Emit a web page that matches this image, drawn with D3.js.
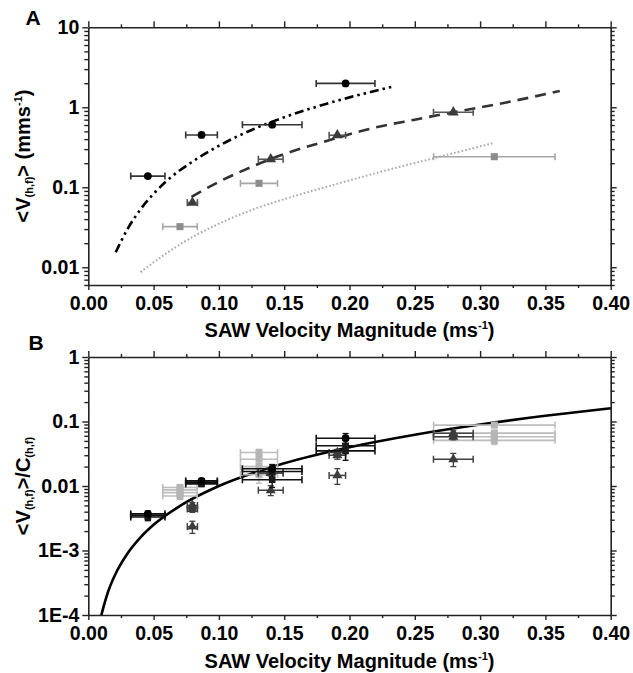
<!DOCTYPE html>
<html><head><meta charset="utf-8">
<script src="https://cdn.jsdelivr.net/npm/d3@7"></script>
<style>
html,body{margin:0;padding:0;background:#fff;}
text{font-family:"Liberation Sans",Arial,sans-serif;font-weight:bold;}
</style></head>
<body><svg id="c" width="633" height="673"></svg>
<script>
// ---------- axes ----------
const xTicks = [0.00,0.05,0.10,0.15,0.20,0.25,0.30,0.35,0.40];
const aYTicks = [0.01,0.1,1,10];
const aYLabels = ["0.01","0.1","1","10"];
const bYTicks = [1e-4,1e-3,0.01,0.1,1];
const bYLabels = ["1E-4","1E-3","0.01","0.1","1"];

// ---------- Panel A data ----------
const circX    = [0.0456,0.0867,0.1408,0.1970];
const circXerr = [0.0131,0.0121,0.0228,0.0225];
const circY    = [0.138,0.451,0.606,1.99];

const triX     = [0.0797,0.1397,0.1907,0.2795];
const triXerr  = [0.0039,0.0095,0.0063,0.0152];
const triY     = [0.0642,0.224,0.447,0.866];

const sqX      = [0.0702,0.1307,0.3109];
const sqXerr   = [0.0132,0.0142,0.0465];
const sqY      = [0.0322,0.112,0.241];

// curves
const dashDotX = [0.021,0.03,0.04,0.05,0.06,0.08,0.10,0.125,0.15,0.175,0.20,0.233];
const dashDotY = [0.0154,0.030,0.053,0.083,0.12,0.21,0.33,0.52,0.75,1.02,1.33,1.81];
const dashX    = [0.079,0.10,0.125,0.15,0.185,0.22,0.25,0.28,0.32,0.361];
const dashY    = [0.076,0.117,0.18,0.26,0.39,0.56,0.70,0.87,1.15,1.60];
const dotX     = [0.040,0.06,0.08,0.10,0.125,0.15,0.185,0.22,0.265,0.311];
const dotY     = [0.0087,0.0150,0.0240,0.0350,0.052,0.071,0.104,0.150,0.232,0.36];

// ---------- Panel B data ----------
const bBlkA = [0.0037,0.0120,0.0185,0.055];
const bBlkB = [0.0035,0.0115,0.0168,0.042];
const bBlkC = [0.0033,0.0108,0.0125,0.035];
const bBlkYerr = [0.0004,0.0010,0.0030,0.010];

const bTriA = [0.0050,0.0165,0.033,0.066];
const bTriB = [0.0044,0.0158,0.030,0.058];
const bTriC = [0.00234,0.0086,0.0146,0.026];
const bTriYerr = [0.0005,0.0015,0.004,0.006];

const bSqA = [0.0095,0.033,0.088];
const bSqB = [0.0087,0.026,0.066];
const bSqC = [0.0079,0.020,0.058];
const bSqD = [0.0070,0.0150,0.051];
const bSqYerr = [0.0008,0.004,0.007];

const fitX = [0.010,0.015,0.02,0.03,0.04,0.05,0.075,0.10,0.15,0.20,0.25,0.30,0.35,0.40];
const fitY = [0.0001,0.000225,0.0004,0.0009,0.0016,0.0025,0.0056,0.010,0.0225,0.040,0.0625,0.090,0.1225,0.160];

// ---------- drawing ----------
const svg = d3.select("#c");
const L = 88.3, R = 610.7;
const x = d3.scaleLinear().domain([0,0.4]).range([L,R]);
const minorX = d3.range(0.025,0.4,0.05);

function logMinor(dom){
  const out=[];
  for(let e=-5;e<=2;e++){for(let m=2;m<=9;m++){const v=m*Math.pow(10,e);if(v>=dom[0]*0.9999&&v<=dom[1]*1.0001)out.push(v);}}
  return out;
}

function frame(top,bottom,yDomain,yTicks,yLabels){
  const y = d3.scaleLog().domain(yDomain).range([bottom,top]);
  const g = svg.append("g");
  const ax = (sel)=>sel.call(s=>s.select(".domain").attr("stroke","#222").attr("stroke-width",1.6))
                       .call(s=>s.selectAll(".tick line").attr("stroke","#222").attr("stroke-width",1.4));
  // bottom
  g.append("g").attr("transform",`translate(0,${bottom})`)
    .call(d3.axisBottom(x).tickValues(xTicks).tickFormat(d3.format(".2f")).tickSize(5).tickSizeOuter(0))
    .call(ax).call(s=>s.selectAll("text").attr("font-size",19.5).attr("fill","#000").attr("dy","0.87em"));
  g.append("g").attr("transform",`translate(0,${bottom})`)
    .call(d3.axisBottom(x).tickValues(minorX).tickFormat("").tickSize(3).tickSizeOuter(0))
    .call(ax).call(s=>s.select(".domain").remove());
  // top
  g.append("g").attr("transform",`translate(0,${top})`)
    .call(d3.axisTop(x).tickValues(xTicks).tickFormat("").tickSize(6).tickSizeOuter(0)).call(ax);
  g.append("g").attr("transform",`translate(0,${top})`)
    .call(d3.axisTop(x).tickValues(minorX).tickFormat("").tickSize(3).tickSizeOuter(0))
    .call(ax).call(s=>s.select(".domain").remove());
  // left
  g.append("g").attr("transform",`translate(${L},0)`)
    .call(d3.axisLeft(y).tickValues(yTicks).tickFormat((d,i)=>yLabels[i]).tickSize(6).tickSizeOuter(0))
    .call(ax).call(s=>s.selectAll("text").attr("font-size",19.5).attr("fill","#000"));
  g.append("g").attr("transform",`translate(${L},0)`)
    .call(d3.axisLeft(y).tickValues(logMinor(yDomain)).tickFormat("").tickSize(4).tickSizeOuter(0))
    .call(ax).call(s=>s.select(".domain").remove());
  // right
  g.append("g").attr("transform",`translate(${R},0)`)
    .call(d3.axisRight(y).tickValues(yTicks).tickFormat("").tickSize(6).tickSizeOuter(0)).call(ax);
  g.append("g").attr("transform",`translate(${R},0)`)
    .call(d3.axisRight(y).tickValues(logMinor(yDomain)).tickFormat("").tickSize(4).tickSizeOuter(0))
    .call(ax).call(s=>s.select(".domain").remove());
  return y;
}

function curve(y,xs,ys,opts){
  const line = d3.line().x(d=>x(d[0])).y(d=>y(d[1])).curve(d3.curveMonotoneX);
  svg.append("path").datum(xs.map((v,i)=>[v,ys[i]])).attr("d",line)
    .attr("fill","none").attr("stroke",opts.color).attr("stroke-width",opts.width)
    .attr("stroke-dasharray",opts.dash||null).attr("stroke-linecap",opts.cap||"butt");
}

function xErr(y,xs,xe,ys,color,w,cap){
  const g = svg.append("g").attr("stroke",color).attr("stroke-width",w).attr("fill","none");
  xs.forEach((v,i)=>{
    const yy=y(ys[i]), x0=x(v-xe[i]), x1=x(v+xe[i]);
    g.append("line").attr("x1",x0).attr("x2",x1).attr("y1",yy).attr("y2",yy);
    g.append("line").attr("x1",x0).attr("x2",x0).attr("y1",yy-cap).attr("y2",yy+cap);
    g.append("line").attr("x1",x1).attr("x2",x1).attr("y1",yy-cap).attr("y2",yy+cap);
  });
}
function yErr(y,xs,ys,ye,color,w,cap){
  const g = svg.append("g").attr("stroke",color).attr("stroke-width",w).attr("fill","none");
  xs.forEach((v,i)=>{
    const xx=x(v), y0=y(ys[i]-ye[i]), y1=y(ys[i]+ye[i]);
    g.append("line").attr("x1",xx).attr("x2",xx).attr("y1",y0).attr("y2",y1);
    g.append("line").attr("x1",xx-cap).attr("x2",xx+cap).attr("y1",y0).attr("y2",y0);
    g.append("line").attr("x1",xx-cap).attr("x2",xx+cap).attr("y1",y1).attr("y2",y1);
  });
}
function marks(y,xs,ys,type,color,size){
  const sym = {circle:d3.symbolCircle,square:d3.symbolSquare,triangle:d3.symbolTriangle}[type];
  svg.append("g").selectAll("path").data(xs.map((v,i)=>[v,ys[i]])).join("path")
    .attr("transform",d=>`translate(${x(d[0])},${y(d[1])})`)
    .attr("d",d3.symbol(sym,size)).attr("fill",color);
}

function title(xc,yc,parts,rot){
  const t = svg.append("text").attr("font-size",20).attr("fill","#000").attr("text-anchor","middle")
    .attr("transform",`translate(${xc},${yc})`+(rot?" rotate(-90)":""));
  parts.forEach(p=>{
    const s=t.append("tspan").text(p[0]);
    if(p[1]==="sub"){s.attr("font-size",11).attr("baseline-shift","-30%");}
    else if(p[1]==="sup"){s.attr("font-size",11).attr("baseline-shift","75%");}
  });
}

// ===== Panel A =====
const yA = frame(27.3,285,[0.006,10],aYTicks,aYLabels);
curve(yA,dotX,dotY,{color:"#a8a8a8",width:2,dash:"1.6,2.2"});
curve(yA,dashX,dashY,{color:"#333",width:2.6,dash:"11,7"});
curve(yA,dashDotX,dashDotY,{color:"#000",width:2.6,dash:"9,4,2.5,4,2.5,4"});
xErr(yA,sqX,sqXerr,sqY,"#a6a6a6",1.6,3.5);
xErr(yA,triX,triXerr,triY,"#555",1.6,3.5);
xErr(yA,circX,circXerr,circY,"#333",1.6,3.5);
marks(yA,sqX,sqY,"square","#8c8c8c",50);
marks(yA,triX,triY,"triangle","#3c3c3c",50);
marks(yA,circX,circY,"circle","#000",48);

svg.append("text").attr("x",33).attr("y",25).attr("font-size",21).attr("text-anchor","middle").text("A");
title(349.5,337,[["SAW Velocity Magnitude (ms"],["-1","sup"],[")"]],false);
title(30,156,[["<V"],["(h,f)","sub"],["> (mms"],["-1","sup"],[")"]],true);

// ===== Panel B =====
const yB = frame(357,615,[1e-4,1],bYTicks,bYLabels);
curve(yB,fitX,fitY,{color:"#000",width:2.6});

// light gray squares
[bSqA,bSqB,bSqC,bSqD].forEach(s=>{xErr(yB,sqX,sqXerr,s,"#bdbdbd",1.6,3.5);yErr(yB,sqX,s,bSqYerr,"#bdbdbd",1.4,3);});
[bSqA,bSqB,bSqC,bSqD].forEach(s=>marks(yB,sqX,s,"square","#b5b5b5",50));
// triangles
[bTriA,bTriB,bTriC].forEach(s=>{xErr(yB,triX,triXerr,s,"#404040",1.5,3.5);yErr(yB,triX,s,bTriYerr,"#404040",1.3,3);});
[bTriA,bTriB,bTriC].forEach(s=>marks(yB,triX,s,"triangle","#3c3c3c",44));
// black
[bBlkA,bBlkB,bBlkC].forEach(s=>{xErr(yB,circX,circXerr,s,"#111",1.6,3.5);yErr(yB,circX,s,bBlkYerr,"#111",1.4,3);});
marks(yB,circX,bBlkC,"square","#1a1a1a",44);
marks(yB,circX,bBlkB,"square","#1a1a1a",44);
marks(yB,circX,bBlkA,"circle","#000",48);

svg.append("text").attr("x",36).attr("y",350).attr("font-size",21).attr("text-anchor","middle").text("B");
title(349.5,668,[["SAW Velocity Magnitude (ms"],["-1","sup"],[")"]],false);
title(30,486,[["<V"],["(h,f)","sub"],[">/C"],["(h,f)","sub"]],true);
</script></body></html>
